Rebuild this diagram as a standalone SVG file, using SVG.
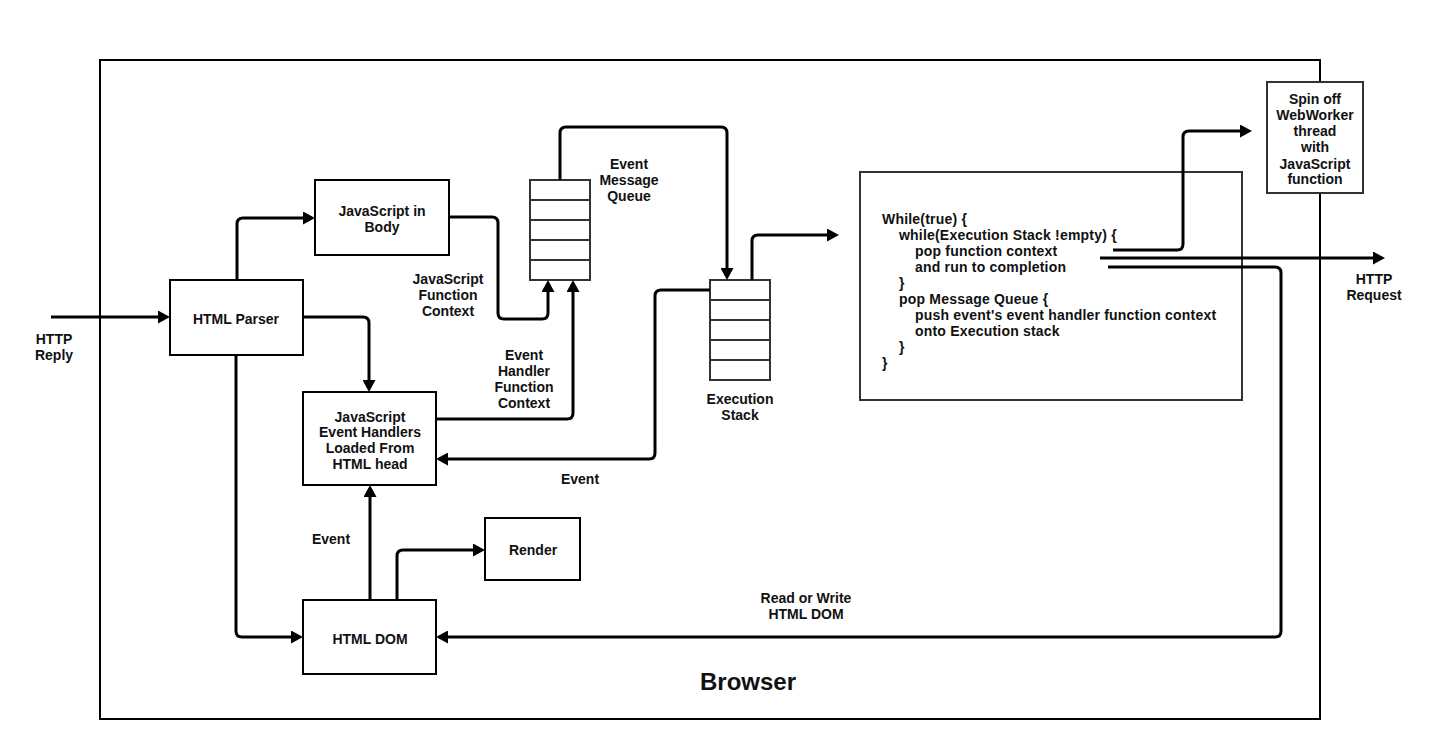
<svg xmlns="http://www.w3.org/2000/svg" width="1438" height="740" viewBox="0 0 1438 740">
<style>
.lbl{font-family:"Liberation Sans",Arial,Helvetica,sans-serif;font-weight:bold;font-size:14px;fill:#111;text-anchor:middle}
.code{font-family:"Liberation Sans",Arial,Helvetica,sans-serif;font-weight:bold;font-size:14px;fill:#111;letter-spacing:0.2px}
.box{fill:#fff;stroke:#000;stroke-width:2}
.gbox{fill:#fff;stroke:#333;stroke-width:2}
.cell{fill:#fff;stroke:#333;stroke-width:2}
.conn{fill:none;stroke:#000;stroke-width:3;marker-end:url(#arr)}
</style>
<defs>
<marker id="arr" markerUnits="userSpaceOnUse" viewBox="0 0 12 13" markerWidth="12" markerHeight="13" refX="6" refY="6.5" orient="auto">
<path d="M0,0 L12,6.5 L0,13 Z" fill="#000"/>
</marker>
</defs>
<rect width="1438" height="740" fill="#fff"/>

<g id="browser">
<rect x="100" y="60" width="1220" height="659" fill="none" stroke="#000" stroke-width="2"/>
<text class="lbl" x="748" y="690" style="font-size:24px">Browser</text>
</g>

<g id="webworker">
<rect class="gbox" x="1267" y="82" width="96" height="111"/>
<text class="lbl" x="1315" y="104">Spin off</text>
<text class="lbl" x="1315" y="120">WebWorker</text>
<text class="lbl" x="1315" y="136">thread</text>
<text class="lbl" x="1315" y="152">with</text>
<text class="lbl" x="1315" y="169">JavaScript</text>
<text class="lbl" x="1315" y="184">function</text>
</g>

<g id="eventloop">
<rect class="gbox" x="860" y="172" width="382" height="228"/>
<text class="code" x="882" y="224">While(true) {</text>
<text class="code" x="899" y="240">while(Execution Stack !empty) {</text>
<text class="code" x="915" y="256">pop function context</text>
<text class="code" x="915" y="272">and run to completion</text>
<text class="code" x="899" y="288">}</text>
<text class="code" x="899" y="304">pop Message Queue {</text>
<text class="code" x="915" y="320">push event's event handler function context</text>
<text class="code" x="915" y="336">onto Execution stack</text>
<text class="code" x="899" y="352">}</text>
<text class="code" x="882" y="368">}</text>
</g>

<g id="html-parser">
<rect class="box" x="170" y="280" width="133" height="75"/>
<text class="lbl" x="236" y="324">HTML Parser</text>
</g>

<g id="js-body">
<rect class="box" x="315" y="180" width="134" height="75"/>
<text class="lbl" x="382" y="216">JavaScript in</text>
<text class="lbl" x="382" y="232">Body</text>
</g>

<g id="js-handlers">
<rect class="box" x="303" y="392" width="133" height="93"/>
<text class="lbl" x="370" y="422">JavaScript</text>
<text class="lbl" x="370" y="437">Event Handlers</text>
<text class="lbl" x="370" y="453">Loaded From</text>
<text class="lbl" x="370" y="469">HTML head</text>
</g>

<g id="html-dom">
<rect class="box" x="303" y="600" width="133" height="74"/>
<text class="lbl" x="370" y="644">HTML DOM</text>
</g>

<g id="render">
<rect class="box" x="485" y="518" width="95" height="62"/>
<text class="lbl" x="533" y="555">Render</text>
</g>

<g id="message-queue">
<rect class="cell" x="530" y="180" width="60" height="20"/>
<rect class="cell" x="530" y="200" width="60" height="20"/>
<rect class="cell" x="530" y="220" width="60" height="20"/>
<rect class="cell" x="530" y="240" width="60" height="20"/>
<rect class="cell" x="530" y="260" width="60" height="20"/>
<text class="lbl" x="629" y="169">Event</text>
<text class="lbl" x="629" y="185">Message</text>
<text class="lbl" x="629" y="201">Queue</text>
</g>

<g id="execution-stack">
<rect class="cell" x="710" y="280" width="60" height="20"/>
<rect class="cell" x="710" y="300" width="60" height="20"/>
<rect class="cell" x="710" y="320" width="60" height="20"/>
<rect class="cell" x="710" y="340" width="60" height="20"/>
<rect class="cell" x="710" y="360" width="60" height="20"/>
<text class="lbl" x="740" y="404">Execution</text>
<text class="lbl" x="740" y="420">Stack</text>
</g>

<g id="connectors">
<path class="conn" d="M51,317 H164"/>
<path class="conn" d="M237,280 V224 Q237,218 243,218 H309"/>
<path class="conn" d="M303,317 H363 Q369,317 369,323 V386"/>
<path class="conn" d="M236,355 V631 Q236,637 242,637 H297"/>
<path class="conn" d="M370,600 V491"/>
<path class="conn" d="M397,600 V556 Q397,550 403,550 H479"/>
<path class="conn" d="M449,217 H492 Q498,217 498,223 V313 Q498,319 504,319 H542 Q548,319 548,313 V286"/>
<path class="conn" d="M436,419 H567 Q573,419 573,413 V286"/>
<path class="conn" d="M560,180 V133 Q560,127 566,127 H721 Q727,127 727,133 V274"/>
<path class="conn" d="M710,290 H661 Q655,290 655,296 V453 Q655,459 649,459 H442"/>
<path class="conn" d="M752,280 V241 Q752,235 758,235 H833"/>
<path class="conn" d="M1113,250 H1177 Q1183,250 1183,244 V137 Q1183,131 1189,131 H1246"/>
<path class="conn" d="M1100,258 H1379"/>
<path class="conn" d="M1108,267 H1275 Q1281,267 1281,273 V631 Q1281,637 1275,637 H442"/>
</g>

<g id="labels">
<text class="lbl" x="54" y="344">HTTP</text>
<text class="lbl" x="54" y="360">Reply</text>
<text class="lbl" x="448" y="284">JavaScript</text>
<text class="lbl" x="448" y="300">Function</text>
<text class="lbl" x="448" y="316">Context</text>
<text class="lbl" x="524" y="360">Event</text>
<text class="lbl" x="524" y="376">Handler</text>
<text class="lbl" x="524" y="392">Function</text>
<text class="lbl" x="524" y="408">Context</text>
<text class="lbl" x="580" y="484">Event</text>
<text class="lbl" x="331" y="544">Event</text>
<text class="lbl" x="806" y="603">Read or Write</text>
<text class="lbl" x="806" y="619">HTML DOM</text>
<text class="lbl" x="1374" y="284">HTTP</text>
<text class="lbl" x="1374" y="300">Request</text>
</g>
</svg>
